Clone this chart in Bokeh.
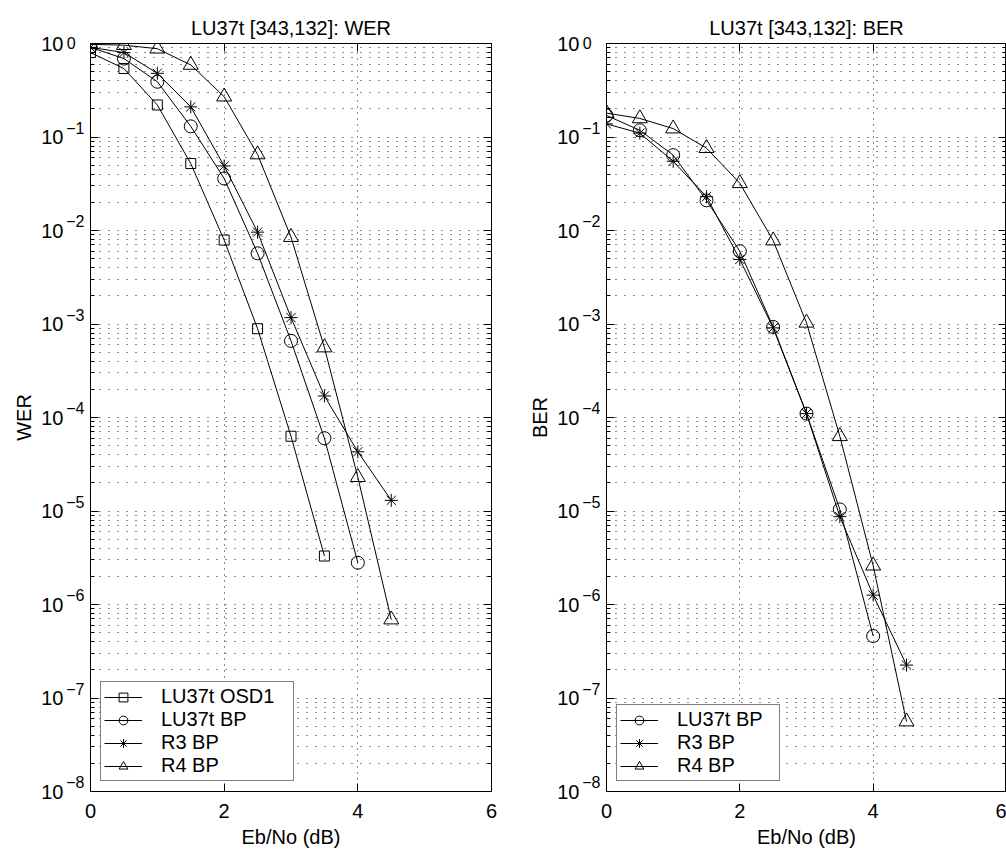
from bokeh.plotting import figure
from bokeh.models import (Range1d, FixedTicker, LogAxis, LinearAxis,
                          CustomJSTickFormatter)
from bokeh.layouts import row
from bokeh.embed import file_html
from bokeh.resources import INLINE

FONT = "Liberation Sans"

# ---------------- data ----------------
ebno = [0.0, 0.5, 1.0, 1.5, 2.0, 2.5, 3.0, 3.5, 4.0, 4.5]

# WER panel
wer_lu37t_osd1 = [0.80, 0.54, 0.22, 0.052, 0.0079, 0.00089, 6.3e-5, 3.3e-6]
wer_lu37t_bp = [0.91, 0.69, 0.39, 0.13, 0.036, 0.0057, 6.6e-4, 6.0e-5, 2.8e-6]
wer_r3_bp = [0.91, 0.80, 0.48, 0.21, 0.049, 0.0096, 0.00117, 1.7e-4, 4.3e-5, 1.3e-5]
wer_r4_bp = [0.98, 0.96, 0.88, 0.59, 0.27, 0.065, 0.0085, 5.6e-4, 2.3e-5, 6.9e-7]

# BER panel
ber_lu37t_bp = [0.17, 0.118, 0.064, 0.021, 0.0060, 9.3e-4, 1.1e-4, 1.04e-5, 4.6e-7]
ber_r3_bp = [0.138, 0.11, 0.055, 0.023, 0.0049, 9.1e-4, 1.1e-4, 8.7e-6, 1.26e-6, 2.25e-7]
ber_r4_bp = [0.18, 0.158, 0.123, 0.076, 0.032, 0.0078, 0.00103, 6.3e-5, 2.6e-6, 5.6e-8]

x_ticks = [0, 2, 4, 6]
y_exponents = [0, -1, -2, -3, -4, -5, -6, -7, -8]

titles = ["LU37t [343,132]: WER", "LU37t [343,132]: BER"]
y_labels = ["WER", "BER"]
x_label = "Eb/No (dB)"

MARKERS = {
    "LU37t OSD1": ("square", 10),
    "LU37t BP": ("circle", 13),
    "R3 BP": ("asterisk", 13),
    "R4 BP": ("triangle", 15),
}

Y_LO, Y_HI = 1e-8, 1.0
FRAME_TOP = 43
FRAME_H = 750            # frame height in px (43 .. 793)
EXP_RAISE_PX = 9         # superscript raised above the tick


def y_ticker():
    majors = [10.0 ** e for e in y_exponents]
    minors = [m * 10.0 ** e for e in range(min(y_exponents), max(y_exponents)) for m in range(2, 10)]
    return FixedTicker(ticks=majors, minor_ticks=minors)


def x_ticker():
    return FixedTicker(ticks=x_ticks, minor_ticks=[])


EMPTY = "return ''"
BASE = "return '10'"
EXP = ("const e = Math.round(Math.log10(tick));"
       "if (e === 0) { return '0\\u2007'; }"
       "return String(e).replace('-', '\\u2212');")


def make_fig(title, ylabel, width, min_left, min_right, series, label_width):
    decades = float(max(y_exponents) - min(y_exponents))
    shift = 10.0 ** (EXP_RAISE_PX * decades / FRAME_H)
    p = figure(width=width, height=850, x_range=Range1d(0, 6), y_range=Range1d(Y_LO, Y_HI),
               y_axis_type="log", output_backend="svg", toolbar_location=None,
               min_border_left=min_left, min_border_right=min_right,
               min_border_top=FRAME_TOP, min_border_bottom=57, title=title)
    # range used only to place the exponents a few px above their ticks
    p.extra_y_ranges = {"exp": Range1d(Y_LO / shift, Y_HI / shift)}
    p.background_fill_color = "white"
    p.border_fill_color = "white"
    p.outline_line_color = "black"
    p.outline_line_width = 1

    p.title.text_font = FONT
    p.title.text_font_size = "20px"
    p.title.text_font_style = "normal"
    p.title.align = "center"
    p.title.text_color = "black"

    # bottom axis
    xa = p.xaxis[0]
    xa.ticker = x_ticker()
    xa.major_tick_in = 8
    xa.major_tick_out = 0
    xa.minor_tick_in = 0
    xa.minor_tick_out = 0
    xa.major_label_text_font = FONT
    xa.major_label_text_font_size = "20px"
    xa.major_label_standoff = 12
    xa.axis_label = x_label
    xa.axis_label_text_font = FONT
    xa.axis_label_text_font_size = "20px"
    xa.axis_label_text_font_style = "normal"
    xa.axis_label_standoff = 5
    xa.axis_line_color = "black"
    xa.major_label_text_color = "black"
    xa.axis_label_text_color = "black"

    # left axis: tick marks only
    ya = p.yaxis[0]
    ya.ticker = y_ticker()
    ya.formatter = CustomJSTickFormatter(code=EMPTY)
    ya.major_label_text_font_size = "0px"
    ya.major_label_standoff = 0
    ya.major_tick_in = 8
    ya.major_tick_out = 0
    ya.minor_tick_in = 4
    ya.minor_tick_out = 0
    ya.axis_line_color = "black"

    # exponent labels (raised above their ticks; the top one sits at the frame top)
    exp_ticks = [Y_HI / shift] + [10.0 ** e for e in y_exponents if e < max(y_exponents)]
    ea = LogAxis(y_range_name="exp",
                 ticker=FixedTicker(ticks=exp_ticks, minor_ticks=[]),
                 formatter=CustomJSTickFormatter(code=EXP),
                 major_label_text_font=FONT, major_label_text_font_size="16px",
                 major_label_text_color="black", major_label_standoff=6,
                 major_tick_in=0, major_tick_out=0, minor_tick_in=0, minor_tick_out=0,
                 axis_line_color=None)
    p.add_layout(ea, "left")

    # base "10" labels + axis title
    ba = LogAxis(ticker=FixedTicker(ticks=[10.0 ** e for e in y_exponents], minor_ticks=[]),
                 formatter=CustomJSTickFormatter(code=BASE),
                 major_label_text_font=FONT, major_label_text_font_size="20px",
                 major_label_text_color="black", major_label_standoff=0,
                 major_tick_in=0, major_tick_out=0, minor_tick_in=0, minor_tick_out=0,
                 axis_line_color=None,
                 axis_label=ylabel, axis_label_text_font=FONT, axis_label_text_font_size="20px",
                 axis_label_text_font_style="normal", axis_label_text_color="black",
                 axis_label_standoff=3)
    p.add_layout(ba, "left")

    # mirror axes
    ra = LogAxis(ticker=y_ticker(), formatter=CustomJSTickFormatter(code=EMPTY),
                 major_label_text_font_size="0px", major_label_standoff=0,
                 major_tick_in=8, major_tick_out=0, minor_tick_in=4, minor_tick_out=0,
                 axis_line_color="black")
    p.add_layout(ra, "right")
    ta = LinearAxis(ticker=x_ticker(), formatter=CustomJSTickFormatter(code=EMPTY),
                    major_label_text_font_size="0px", major_label_standoff=0,
                    major_tick_in=8, major_tick_out=0, minor_tick_in=0, minor_tick_out=0,
                    axis_line_color="black")
    p.add_layout(ta, "above")

    # grids
    p.xgrid.ticker = x_ticker()
    p.xgrid.grid_line_color = "black"
    p.xgrid.grid_line_alpha = 0.9
    p.xgrid.grid_line_dash = "1 5"
    p.ygrid.ticker = y_ticker()
    p.ygrid.grid_line_color = "black"
    p.ygrid.grid_line_alpha = 0.9
    p.ygrid.grid_line_dash = "1 8"
    p.ygrid.minor_grid_line_color = "black"
    p.ygrid.minor_grid_line_alpha = 0.9
    p.ygrid.minor_grid_line_dash = "1 8"

    for name, ys in series:
        xs = ebno[:len(ys)]
        marker, size = MARKERS[name]
        p.line(xs, ys, line_color="black", line_width=1, legend_label=name)
        p.scatter(xs, ys, marker=marker, size=size, line_color="black", line_width=1,
                  fill_color=None, legend_label=name)

    lg = p.legend[0]
    lg.location = (10, 10)
    lg.border_line_color = "black"
    lg.border_line_width = 1
    lg.background_fill_color = "white"
    lg.background_fill_alpha = 1
    lg.label_text_font = FONT
    lg.label_text_font_size = "20px"
    lg.label_text_color = "black"
    lg.glyph_width = 38
    lg.glyph_height = 22
    lg.label_height = 20
    lg.label_width = label_width
    lg.label_standoff = 19
    lg.spacing = 0
    lg.padding = 3
    lg.margin = 0
    return p


p1 = make_fig(titles[0], y_labels[0], 510, 90, 19, [
    ("LU37t OSD1", wer_lu37t_osd1),
    ("LU37t BP", wer_lu37t_bp),
    ("R3 BP", wer_r3_bp),
    ("R4 BP", wer_r4_bp),
], 129)
p2 = make_fig(titles[1], y_labels[1], 496, 96, 0, [
    ("LU37t BP", ber_lu37t_bp),
    ("R3 BP", ber_r3_bp),
    ("R4 BP", ber_r4_bp),
], 99)

layout = row(p1, p2)
open("out.html", "w").write(file_html(layout, INLINE))
